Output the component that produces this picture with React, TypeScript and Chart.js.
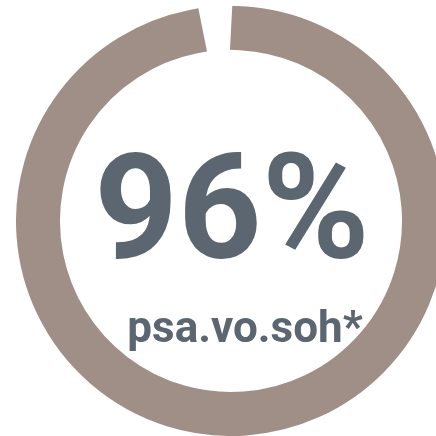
import React, { useEffect, useRef } from "react";
import { Chart, registerables } from "chart.js";

Chart.register(...registerables);

const labels = ["psa.vo.soh", ""];
const values = [96, 4];
const mainText = "96%";
const subText = "psa.vo.soh*";

const BROWN = "#a08f87";
const TEXT = "#5b6670";

const centerText = {
  id: "centerText",
  afterDraw(chart: any) {
    const meta = chart.getDatasetMeta(0);
    const arc = meta.data[0];
    if (!arc) return;
    const { x, y } = arc;
    const ctx = chart.ctx;
    ctx.save();
    ctx.fillStyle = TEXT;
    ctx.textAlign = "center";
    ctx.textBaseline = "alphabetic";
    ctx.font = "bold 146px Roboto";
    ctx.fillText(mainText, x + 1, y + 37);
    ctx.font = "bold 44px Roboto";
    ctx.fillText(subText, x + 14, y + 121);
    ctx.restore();
  },
};

export default function App() {
  const ref = useRef<HTMLCanvasElement | null>(null);
  useEffect(() => {
    if (!ref.current) return;
    const chart = new Chart(ref.current, {
      type: "doughnut",
      data: {
        labels,
        datasets: [
          {
            data: values,
            backgroundColor: [BROWN, "rgba(255,255,255,0)"],
            borderColor: [BROWN, "rgba(255,255,255,0)"],
            borderWidth: [20, 0],
            hoverBorderWidth: [20, 0],
            borderJoinStyle: "miter",
            hoverOffset: 0,
          },
        ],
      },
      options: {
        responsive: false,
        animation: false,
        cutout: "88.3%",
        rotation: 3,
        layout: { padding: 0 },
        plugins: { legend: { display: false }, tooltip: { enabled: false } },
        events: [],
      } as any,
      plugins: [centerText],
    });
    return () => chart.destroy();
  }, []);
  return (
    <div
      style={{
        position: "fixed",
        left: 0,
        top: 0,
        width: 436,
        height: 436,
        overflow: "hidden",
        background: "#fff",
      }}
    >
      <canvas
        ref={ref}
        width={430}
        height={430}
        style={{ position: "absolute", left: 16, top: 6, width: 430, height: 430 }}
      />
    </div>
  );
}
